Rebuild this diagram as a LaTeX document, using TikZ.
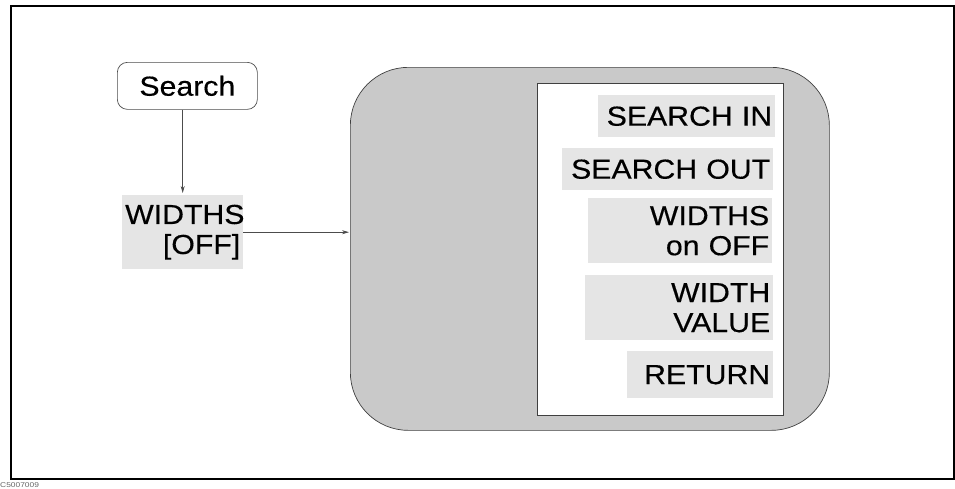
\documentclass[tikz,border=0pt]{standalone}
\usepackage{fontspec}
\newfontfamily\lblfont[FakeStretch=1.1,FakeBold=0.4]{Liberation Sans}
\newfontfamily\capfont[FakeStretch=1.2]{Liberation Sans}
\usetikzlibrary{arrows.meta}
\begin{document}
\begin{tikzpicture}[x=1pt,y=-1pt,
  lbl/.style={font=\lblfont\fontsize{27.5}{30}\selectfont},
  btn/.style={lbl, fill=black!10, anchor=north west, inner xsep=3pt, inner ysep=0pt, align=right},
  keybox/.style={lbl, draw=black!70, line width=0.7pt, rounded corners=10pt, anchor=north west, inner sep=0pt},
  panelbox/.style={draw=black!75, line width=0.7pt, fill=black!21, rounded corners=58pt, anchor=north west, inner sep=0pt},
  menubox/.style={draw=black!75, line width=0.7pt, fill=white, anchor=north west, inner sep=0pt},
  arr/.style={draw=black!70, line width=0.7pt, -{Stealth[length=7pt,width=4pt]}}
]
\useasboundingbox (0,0) rectangle (955,488);
\draw[line width=1.8pt] (11,6) rectangle (954,479);

\node[keybox, minimum width=140pt, minimum height=47pt] (search) at (117,62) {Search};
\node[btn, text width=115pt, minimum height=74pt] (widths) at (122,195) {WIDTHS\\\mbox{[OFF]}};

\node[panelbox, minimum width=479pt, minimum height=363pt] (panel) at (350,67) {};
\node[menubox, minimum width=246pt, minimum height=332pt] (menu) at (537,83) {};

\node[btn, text width=171pt, minimum height=42pt] (sin) at (598,95) {SEARCH IN};
\node[btn, text width=205pt, minimum height=42pt] (sout) at (562,148) {SEARCH OUT};
\node[btn, text width=178pt, minimum height=65pt] (won) at (588,198) {WIDTHS\\on OFF};
\node[btn, text width=182pt, minimum height=65pt] (wval) at (585,275) {WIDTH\\VALUE};
\node[btn, text width=140pt, minimum height=47pt] (ret) at (627,351) {RETURN};

\draw[arr, shorten >=2pt] (search.south -| widths.north) -- (widths.north);
\draw[arr, shorten >=1pt] (widths.east) -- (widths.east -| panel.west);

\node[anchor=south west, inner sep=0pt, text=black!60, font=\capfont\fontsize{7}{8}\selectfont] (cap) at (0,488) {C5007009};
\end{tikzpicture}
\end{document}
